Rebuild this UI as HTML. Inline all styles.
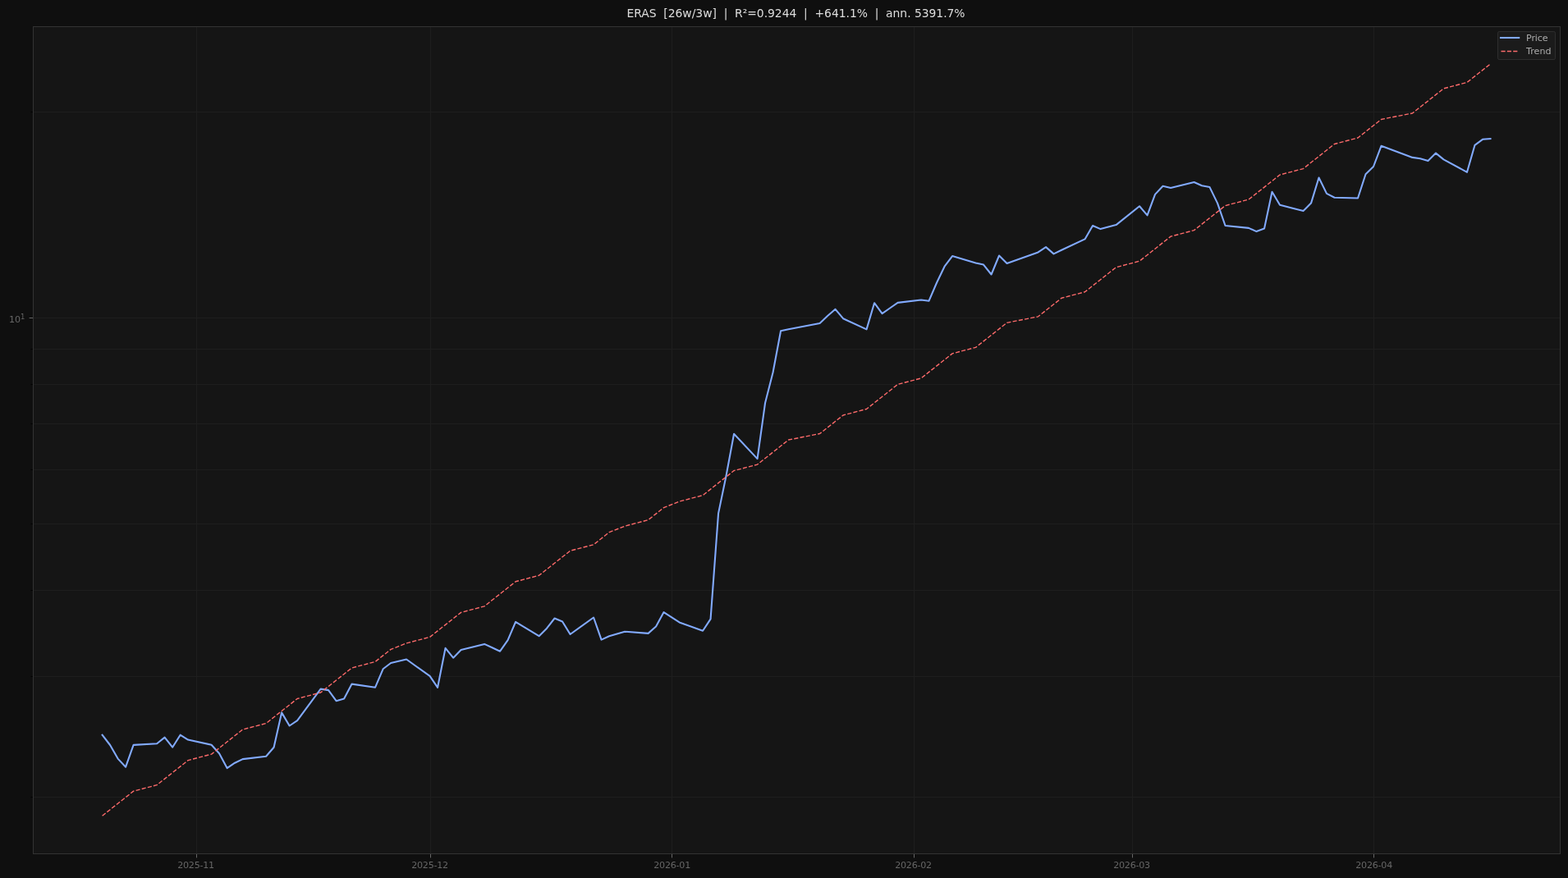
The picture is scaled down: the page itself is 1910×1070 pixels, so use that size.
<!DOCTYPE html>
<html lang="en">
<head>
<meta charset="utf-8">
<title>ERAS [26w/3w] trend chart</title>
<style>
html,body{margin:0;padding:0;background:#0f0f0f;width:1910px;height:1070px;overflow:hidden}
svg{display:block;position:absolute;left:0;top:0}
text{font-family:"DejaVu Sans","Liberation Sans",sans-serif}
.tl{font-size:11.11px;fill:#666666}
.lg{font-size:11.11px;fill:#aaaaaa}
.tt{font-size:13.89px;fill:#dddddd}
</style>
</head>
<body>
<svg width="1910" height="1070" viewBox="0 0 1910 1070">
<rect x="0" y="0" width="1910" height="1070" fill="#0f0f0f"/>
<rect x="40" y="32" width="1861" height="1009" fill="#151515"/>
<g shape-rendering="crispEdges">
<g fill="#1e1e1e">
<rect x="239" y="33" width="1" height="1007"/>
<rect x="524" y="33" width="1" height="1007"/>
<rect x="818" y="33" width="1" height="1007"/>
<rect x="1113" y="33" width="1" height="1007"/>
<rect x="1379" y="33" width="1" height="1007"/>
<rect x="1673" y="33" width="1" height="1007"/>
<rect x="41" y="136" width="1859" height="1"/>
<rect x="41" y="387" width="1859" height="1"/>
<rect x="41" y="425" width="1859" height="1"/>
<rect x="41" y="468" width="1859" height="1"/>
<rect x="41" y="516" width="1859" height="1"/>
<rect x="41" y="572" width="1859" height="1"/>
<rect x="41" y="638" width="1859" height="1"/>
<rect x="41" y="719" width="1859" height="1"/>
<rect x="41" y="824" width="1859" height="1"/>
<rect x="41" y="971" width="1859" height="1"/>
</g>
<g fill="#666666">
<rect x="239" y="1041" width="1" height="4"/><rect x="239" y="1045" width="1" height="1" fill="#2e2e2e"/>
<rect x="524" y="1041" width="1" height="4"/><rect x="524" y="1045" width="1" height="1" fill="#2e2e2e"/>
<rect x="818" y="1041" width="1" height="4"/><rect x="818" y="1045" width="1" height="1" fill="#2e2e2e"/>
<rect x="1113" y="1041" width="1" height="4"/><rect x="1113" y="1045" width="1" height="1" fill="#2e2e2e"/>
<rect x="1379" y="1041" width="1" height="4"/><rect x="1379" y="1045" width="1" height="1" fill="#2e2e2e"/>
<rect x="1673" y="1041" width="1" height="4"/><rect x="1673" y="1045" width="1" height="1" fill="#2e2e2e"/>
<rect x="36" y="387" width="4" height="1"/><rect x="35" y="387" width="1" height="1" fill="#2e2e2e"/>
</g>
<g fill="#000000">
<rect x="37" y="136" width="1" height="1" fill="#080808"/><rect x="38" y="136" width="2" height="1" fill="#030303"/>
<rect x="37" y="425" width="1" height="1" fill="#080808"/><rect x="38" y="425" width="2" height="1" fill="#030303"/>
<rect x="37" y="468" width="1" height="1" fill="#080808"/><rect x="38" y="468" width="2" height="1" fill="#030303"/>
<rect x="37" y="516" width="1" height="1" fill="#080808"/><rect x="38" y="516" width="2" height="1" fill="#030303"/>
<rect x="37" y="572" width="1" height="1" fill="#080808"/><rect x="38" y="572" width="2" height="1" fill="#030303"/>
<rect x="37" y="638" width="1" height="1" fill="#080808"/><rect x="38" y="638" width="2" height="1" fill="#030303"/>
<rect x="37" y="719" width="1" height="1" fill="#080808"/><rect x="38" y="719" width="2" height="1" fill="#030303"/>
<rect x="37" y="824" width="1" height="1" fill="#080808"/><rect x="38" y="824" width="2" height="1" fill="#030303"/>
<rect x="37" y="971" width="1" height="1" fill="#080808"/><rect x="38" y="971" width="2" height="1" fill="#030303"/>
</g>
</g>
<g fill="none" clip-path="none">
<polyline points="124.60,895.60 134.10,908.00 143.60,924.60 153.10,934.70 162.60,907.90 191.10,906.20 200.60,898.60 210.10,910.70 219.59,895.70 229.09,901.60 257.59,907.70 267.09,918.30 276.59,936.10 286.09,929.70 295.59,925.10 324.09,921.80 333.59,910.70 343.09,868.40 352.59,884.50 362.09,878.20 390.59,839.60 400.09,841.10 409.58,854.20 419.08,851.50 428.58,833.60 457.08,837.70 466.58,815.30 476.08,808.00 495.08,803.50 523.58,823.90 533.08,837.80 542.58,789.80 552.08,801.70 561.58,792.10 590.08,784.90 599.57,789.30 609.07,793.70 618.57,780.20 628.07,757.90 656.57,775.20 666.07,765.70 675.57,753.50 685.07,757.50 694.57,773.00 723.07,752.50 732.57,779.60 742.07,775.20 761.07,769.70 789.56,771.90 799.06,763.50 808.56,746.10 827.56,758.40 856.06,768.80 865.56,754.40 875.06,625.60 884.56,579.70 894.06,528.80 922.56,559.10 932.06,491.00 941.56,453.80 951.06,403.30 960.56,401.30 998.55,394.00 1008.05,385.00 1017.55,376.80 1027.05,388.20 1055.55,401.40 1065.05,369.20 1074.55,382.20 1084.05,375.50 1093.55,368.90 1122.05,365.50 1131.55,366.70 1141.05,344.50 1150.55,324.70 1160.05,312.10 1188.54,320.50 1198.04,322.60 1207.54,334.50 1217.04,311.50 1226.54,321.00 1264.54,307.40 1274.04,301.10 1283.54,309.40 1293.04,304.70 1321.54,291.40 1331.04,275.00 1340.54,279.10 1350.04,276.50 1359.53,274.10 1388.03,251.30 1397.53,262.40 1407.03,236.90 1416.53,226.80 1426.03,229.00 1454.53,222.00 1464.03,226.20 1473.53,228.10 1483.03,247.60 1492.53,275.00 1521.03,277.90 1530.53,282.10 1540.03,278.60 1549.52,233.80 1559.02,249.80 1587.52,257.10 1597.02,247.60 1606.52,216.50 1616.02,235.90 1625.52,240.70 1654.02,241.50 1663.52,212.20 1673.02,203.00 1682.52,177.80 1720.52,191.90 1730.02,193.20 1739.51,196.10 1749.01,186.60 1758.51,194.40 1787.01,209.80 1796.51,176.80 1806.01,169.80 1815.51,169.00" stroke="#82aaff" stroke-width="2.08" stroke-linejoin="round" stroke-linecap="square"/>
<polyline points="124.60,994.20 134.10,986.69 143.60,979.18 153.10,971.67 162.60,964.16 191.10,956.65 200.60,949.13 210.10,941.62 219.59,934.11 229.09,926.60 257.59,919.09 267.09,911.58 276.59,904.07 286.09,896.56 295.59,889.05 324.09,881.54 333.59,874.02 343.09,866.51 352.59,859.00 362.09,851.49 390.59,843.98 400.09,836.47 409.58,828.96 419.08,821.45 428.58,813.94 457.08,806.43 466.58,798.91 476.08,791.40 495.08,783.89 523.58,776.38 533.08,768.87 542.58,761.36 552.08,753.85 561.58,746.34 590.08,738.83 599.57,731.32 609.07,723.80 618.57,716.29 628.07,708.78 656.57,701.27 666.07,693.76 675.57,686.25 685.07,678.74 694.57,671.23 723.07,663.72 732.57,656.21 742.07,648.69 761.07,641.18 789.56,633.67 799.06,626.16 808.56,618.65 827.56,611.14 856.06,603.63 865.56,596.12 875.06,588.61 884.56,581.10 894.06,573.58 922.56,566.07 932.06,558.56 941.56,551.05 951.06,543.54 960.56,536.03 998.55,528.52 1008.05,521.01 1017.55,513.50 1027.05,505.99 1055.55,498.47 1065.05,490.96 1074.55,483.45 1084.05,475.94 1093.55,468.43 1122.05,460.92 1131.55,453.41 1141.05,445.90 1150.55,438.39 1160.05,430.88 1188.54,423.36 1198.04,415.85 1207.54,408.34 1217.04,400.83 1226.54,393.32 1264.54,385.81 1274.04,378.30 1283.54,370.79 1293.04,363.28 1321.54,355.76 1331.04,348.25 1340.54,340.74 1350.04,333.23 1359.53,325.72 1388.03,318.21 1397.53,310.70 1407.03,303.19 1416.53,295.68 1426.03,288.17 1454.53,280.66 1464.03,273.14 1473.53,265.63 1483.03,258.12 1492.53,250.61 1521.03,243.10 1530.53,235.59 1540.03,228.08 1549.52,220.57 1559.02,213.06 1587.52,205.55 1597.02,198.03 1606.52,190.52 1616.02,183.01 1625.52,175.50 1654.02,167.99 1663.52,160.48 1673.02,152.97 1682.52,145.46 1720.52,137.95 1730.02,130.44 1739.51,122.92 1749.01,115.41 1758.51,107.90 1787.01,100.39 1796.51,92.88 1806.01,85.37 1815.51,77.86" stroke="#ff6b6b" stroke-width="1.39" stroke-linejoin="round" stroke-linecap="butt" stroke-dasharray="5.14 2.22"/>
</g>
<g shape-rendering="crispEdges" fill="#333333">
<rect x="40" y="32" width="1861" height="1"/>
<rect x="40" y="1040" width="1861" height="1"/>
<rect x="40" y="32" width="1" height="1009"/>
<rect x="1900" y="32" width="1" height="1009"/>
</g>
<rect x="1824.5" y="38.5" width="70" height="34" rx="1.7" ry="1.7" fill="#1b1b1b" stroke="#2e2e2e" stroke-width="1"/>
<line x1="1828" y1="46" x2="1850.2" y2="46" stroke="#82aaff" stroke-width="2.08" stroke-linecap="square"/>
<line x1="1828.5" y1="62.5" x2="1850.3" y2="62.5" stroke="#ff6b6b" stroke-width="1.39" stroke-dasharray="5.14 2.22"/>
<text class="lg" x="1859.1" y="50" letter-spacing="-0.17">Price</text>
<text class="lg" x="1859.1" y="66.1">Trend</text>
<text class="tl" x="216.24" y="1058.1" letter-spacing="-0.25">2025-11</text>
<text class="tl" x="501.24" y="1058.1" letter-spacing="-0.25">2025-12</text>
<text class="tl" x="796.29" y="1058.1" letter-spacing="-0.25">2026-01</text>
<text class="tl" x="1090.24" y="1058.1" letter-spacing="-0.25">2026-02</text>
<text class="tl" x="1356.24" y="1058.1" letter-spacing="-0.25">2026-03</text>
<text class="tl" x="1651.29" y="1058.1" letter-spacing="-0.25">2026-04</text>
<text class="tl" x="11.0" y="393.2">10</text>
<text class="tl" x="25.0" y="388.9" font-size="8.4px" style="font-size:8.4px">1</text>
<text class="tt" x="763.5" y="21" letter-spacing="-0.02" xml:space="preserve" style="white-space:pre">ERAS  [26w/3w]  |  R²=0.9244  |  +641.1%  |  ann. 5391.7%</text>
</svg>
</body>
</html>
